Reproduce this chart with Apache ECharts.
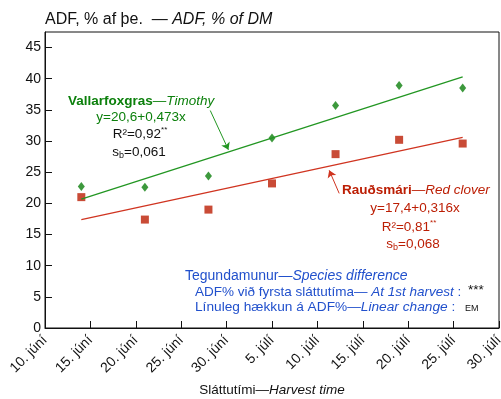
<!DOCTYPE html>
<html>
<head>
<meta charset="utf-8">
<script src="https://cdn.jsdelivr.net/npm/echarts@6/dist/echarts.min.js"></script>
<style>
  html, body { margin: 0; padding: 0; background: #fff; }
  #chart { width: 501px; height: 399px; }
</style>
</head>
<body>
<div id="chart"></div>
<script>
// dagar frá 10. júní
const tickLabels = ['10. júní', '15. júní', '20. júní', '25. júní', '30. júní', '5. júlí',
  '10. júlí', '15. júlí', '20. júlí', '25. júlí', '30. júlí'];
const harvestDays = [4, 11, 18, 25, 32, 39, 46];
const timothyAdf = [22.7, 22.6, 24.4, 30.5, 35.7, 38.9, 38.5];
const cloverAdf = [21.0, 17.4, 19.0, 23.2, 27.9, 30.2, 29.6];
// aðhvarfslínur, endapunktar
const timothyFit = [[4, 20.7], [46, 40.3]];
const cloverFit = [[4, 17.4], [46, 30.6]];
// örvar frá texta að línu
const timothyArrow = [[18.2, 34.9], [20.2, 28.6]];
const cloverArrow = [[32.4, 21.6], [31.3, 25.3]];

const GREEN = '#0c800c';
const GREEN_LINE = '#229622';
const RED = '#bc1e04';
const RED_LINE = '#d03420';
const BLUE = '#2150cc';
const FONT = '"Liberation Sans", Arial, sans-serif';

const chart = echarts.init(document.getElementById('chart'));

const pairs = (xs, ys) => xs.map((x, i) => [x, ys[i]]);
const arrowLine = (pts, color) => ({
  silent: true,
  symbol: ['none', 'arrow'],
  symbolSize: 7,
  label: { show: false },
  lineStyle: { color, width: 1, type: 'solid' },
  data: [[{ coord: pts[0] }, { coord: pts[1] }]],
});

const makeRich = (size) => ({
  b: { fontWeight: 'bold', fontSize: size, fontFamily: FONT },
  i: { fontStyle: 'italic', fontSize: size, fontFamily: FONT },
  n: { fontSize: size, fontFamily: FONT },
  sup: { fontSize: 8, fontFamily: FONT, verticalAlign: 'top', lineHeight: 16 },
  sub: { fontSize: 9, fontFamily: FONT, verticalAlign: 'bottom', lineHeight: 16 },
});
const txt = (x, y, text, color, align, size) => ({
  type: 'text', x, y,
  style: { text, fill: color, align: align || 'left', verticalAlign: 'middle', rich: makeRich(size || 13.5) },
});

chart.setOption({
  animation: false,
  grid: {
    left: 45, right: 2, top: 32, bottom: 71, containLabel: false, outerBoundsMode: 'none',
    show: true, borderColor: '#111', borderWidth: 1,
  },
  xAxis: {
    type: 'value', min: 0, max: 50, interval: 5,
    axisLine: { lineStyle: { color: '#111' } },
    axisTick: { inside: true, length: 7, lineStyle: { color: '#111' } },
    splitLine: { show: false },
    axisLabel: {
      rotate: 45, color: '#111', fontSize: 14, fontFamily: FONT, margin: 10,
      formatter: (v) => tickLabels[Math.round(v / 5)],
    },
    name: '{n|Sláttutími—}{i|Harvest time}',
    nameLocation: 'middle', nameGap: 55,
    nameTextStyle: { color: '#111', rich: { n: { fontSize: 13.5, fontFamily: FONT }, i: { fontSize: 13.5, fontStyle: 'italic', fontFamily: FONT } } },
  },
  yAxis: {
    type: 'value', min: 0, max: 47.5, interval: 5,
    axisLine: { show: true, lineStyle: { color: '#111' } },
    axisTick: { show: true, inside: true, length: 7, lineStyle: { color: '#111' } },
    splitLine: { show: false },
    axisLabel: { color: '#111', fontSize: 14, fontFamily: FONT, margin: 4, showMaxLabel: false },
  },
  series: [
    {
      type: 'line', data: timothyFit, symbol: 'none', silent: true,
      lineStyle: { color: GREEN_LINE, width: 1.3 },
      markLine: arrowLine(timothyArrow, GREEN_LINE),
    },
    {
      type: 'line', data: cloverFit, symbol: 'none', silent: true,
      lineStyle: { color: RED_LINE, width: 1.3 },
      markLine: arrowLine(cloverArrow, RED_LINE),
    },
    {
      type: 'scatter', data: pairs(harvestDays, timothyAdf),
      symbol: 'diamond', symbolSize: [7, 9], itemStyle: { color: GREEN },
    },
    {
      type: 'scatter', data: pairs(harvestDays, cloverAdf),
      symbol: 'rect', symbolSize: 8, itemStyle: { color: RED },
    },
  ],
  graphic: [
    {
      type: 'text', x: 45, y: 20,
      style: {
        text: '{n|ADF, % af þe.  — }{i|ADF, % of DM}', fill: '#111', verticalAlign: 'middle',
        rich: { n: { fontSize: 16, fontFamily: FONT }, i: { fontSize: 16, fontStyle: 'italic', fontFamily: FONT } },
      },
    },
    txt(68, 101, '{b|Vallarfoxgras}{n|—}{i|Timothy}', GREEN),
    txt(141, 117, '{n|y=20,6+0,473x}', GREEN, 'center'),
    txt(140, 134, '{n|R²=0,92}{sup|**}', '#111', 'center'),
    txt(139, 152, '{n|s}{sub|b}{n|=0,061}', '#111', 'center'),
    txt(342, 190, '{b|Rauðsmári}{n|—}{i|Red clover}', RED),
    txt(415, 208, '{n|y=17,4+0,316x}', RED, 'center'),
    txt(409, 227, '{n|R²=0,81}{sup|**}', RED, 'center'),
    txt(413, 244, '{n|s}{sub|b}{n|=0,068}', RED, 'center'),
    txt(185, 276, '{n|Tegundamunur—}{i|Species difference}', BLUE, 'left', 14),
    txt(195, 292, '{n|ADF% við fyrsta sláttutíma— }{i|At 1st harvest}{n| :}', BLUE, 'left', 13.5),
    txt(195, 307, '{n|Línuleg hækkun á ADF%—}{i|Linear change}{n| :}', BLUE, 'left', 13.7),
    txt(468, 290, '{n|***}', '#111'),
    {
      type: 'text', x: 465, y: 309,
      style: { text: 'EM', fill: '#111', verticalAlign: 'middle', font: '9px ' + FONT },
    },
  ],
});
</script>
</body>
</html>
